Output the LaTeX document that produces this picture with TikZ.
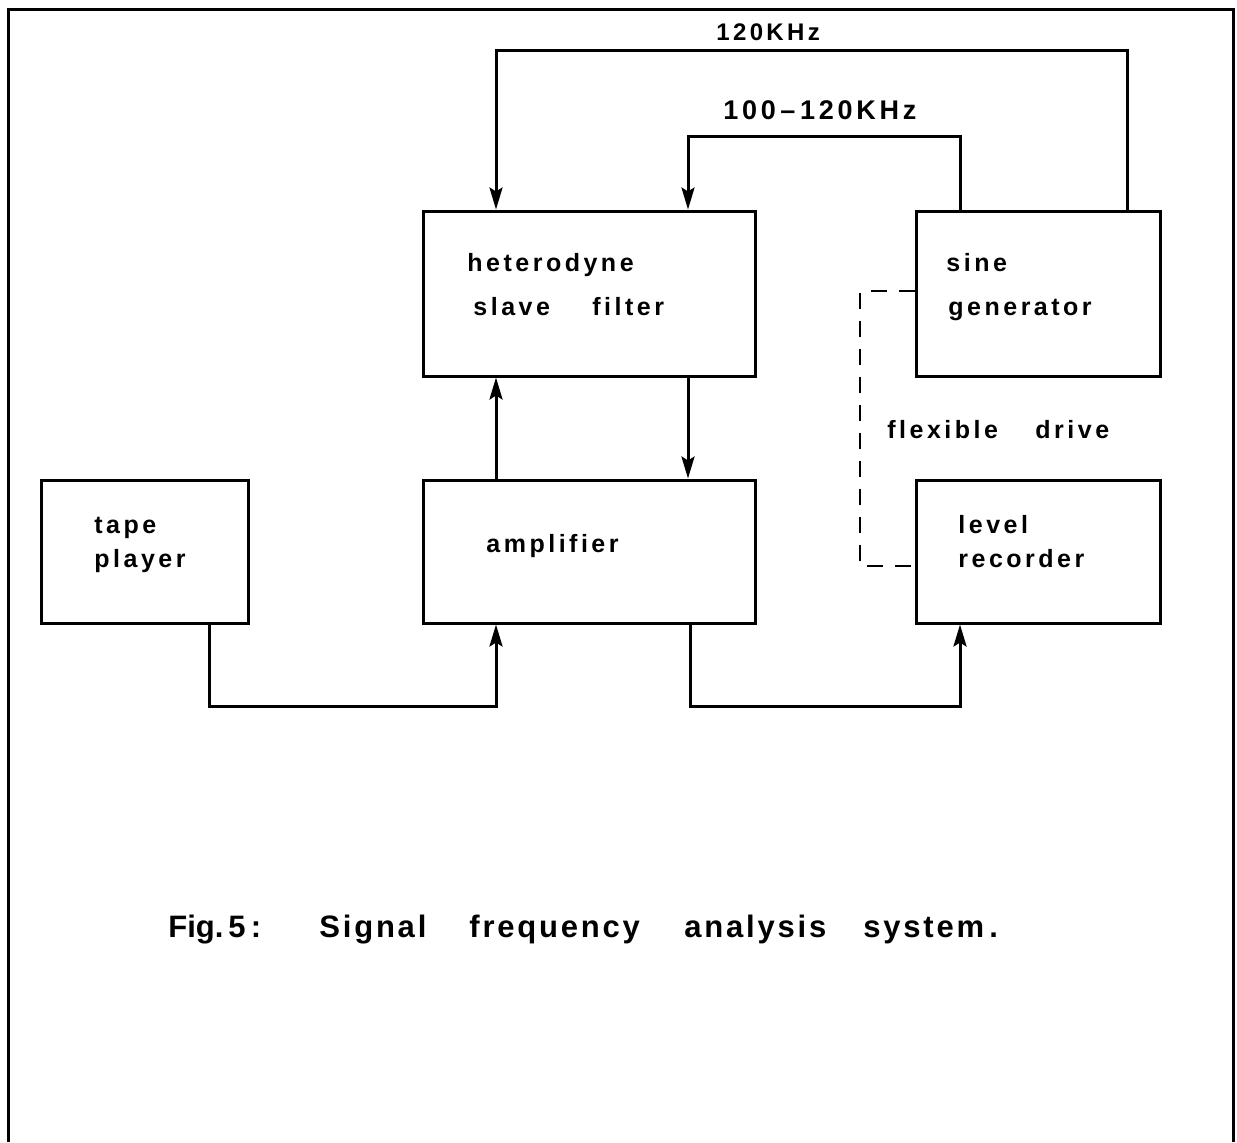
\documentclass[tikz,border=0pt]{standalone}
\usepackage{fontspec}
\setmainfont{Liberation Sans}
\newfontfamily\lblfont[LetterSpace=14]{Liberation Sans}
\newfontfamily\capfont[LetterSpace=9]{Liberation Sans}
\newfontfamily\tightfont{Liberation Sans}
\usetikzlibrary{arrows.meta}
\tikzset{
  box/.style={draw, line width=1.5pt, inner sep=0pt},
  wire/.style={line width=1.5pt, line join=miter},
  arr/.style={wire, -{Stealth[length=11pt,width=6.5pt,inset=2pt]}},
  flex/.style={line width=1.1pt, dash pattern=on 8pt off 6pt},
  lbl/.style={font=\lblfont\bfseries\fontsize{12.5}{15}\selectfont, inner sep=0pt, anchor=base west},
  freqlbl/.style={font=\lblfont\bfseries\fontsize{12}{14}\selectfont, inner sep=0pt, anchor=base west},
  caplbl/.style={font=\capfont\bfseries\fontsize{15.5}{18}\selectfont, inner sep=0pt, anchor=base west},
}
\begin{document}
\begin{tikzpicture}[x=0.5pt,y=-0.5pt]
\useasboundingbox (0,0) rectangle (1237,1142);
% frame
\draw[line width=1.5pt] (8,1142) -- (8,9) -- (1233,9) -- (1233,1142);

% boxes
\node[box, minimum width=166pt, minimum height=82.5pt] (het) at (589,293.5) {};
\node[box, minimum width=122pt, minimum height=82.5pt] (sine) at (1038,293.5) {};
\node[box, minimum width=103.5pt, minimum height=71.5pt] (tape) at (144.5,551.5) {};
\node[box, minimum width=166pt, minimum height=71.5pt] (amp) at (589,551.5) {};
\node[box, minimum width=122pt, minimum height=71.5pt] (lev) at (1038,551.5) {};

% labels
\node[lbl] (lhet) at (467,271) {heterodyne};
\node[lbl] (lslave) at (473,315) {\makebox[59.5pt][l]{slave}filter};
\node[lbl] (lsine) at (946,271) {sine};
\node[lbl] (lgen) at (948,315) {generator};
\node[lbl] (lflex) at (887,438) {\makebox[74pt][l]{flexible}drive};
\node[lbl] (ltape) at (94,533) {tape};
\node[lbl] (lplayer) at (94,567) {player};
\node[lbl] (lamp) at (486,552) {amplifier};
\node[lbl] (llevel) at (958,533) {level};
\node[lbl] (lrec) at (958,567) {recorder};
\node[freqlbl] (f120) at (716,40) {120KHz};
\node[freqlbl, font=\lblfont\bfseries\fontsize{13.5}{16}\selectfont] (f100) at (723,119) {100\,–\,120KHz};
\node[caplbl] (cap) at (168,937) {\makebox[30pt][l]{\tightfont\bfseries Fig.}\makebox[45.5pt][l]{5\,:}\makebox[75pt][l]{Signal}\makebox[107.5pt][l]{frequency}\makebox[89.5pt][l]{analysis}system\,.};

% connectors
\coordinate (a1) at (1127,50);
\coordinate (a2) at (496,50);
\draw[arr] (sine.north -| a1) -- (a1) -- (a2) -- (het.north -| a2);
\coordinate (b1) at (960,136);
\coordinate (b2) at (688,136);
\draw[arr] (sine.north -| b1) -- (b1) -- (b2) -- (het.north -| b2);
\draw[arr] (amp.north -| a2) -- (het.south -| a2);
\draw[arr] (het.south -| b2) -- (amp.north -| b2);
\coordinate (c1) at (209,706);
\coordinate (c2) at (496,706);
\draw[arr] (tape.south -| c1) -- (c1) -- (c2) -- (amp.south -| c2);
\coordinate (d1) at (690,706);
\coordinate (d2) at (960,706);
\draw[arr] (amp.south -| d1) -- (d1) -- (d2) -- (lev.south -| d2);
\coordinate (e1) at (860,291);
\coordinate (e2) at (860,566);
\draw[flex] (sine.west |- e1) -- (e1) -- (e2) -- (lev.west |- e2);
\end{tikzpicture}
\end{document}
